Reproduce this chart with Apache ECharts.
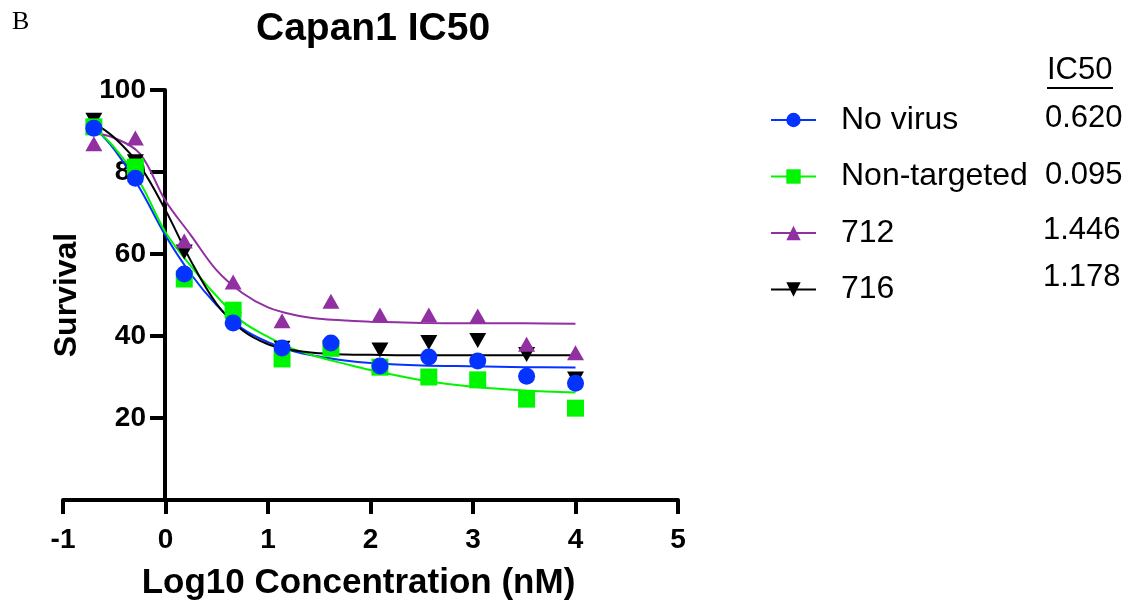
<!DOCTYPE html>
<html>
<head>
<meta charset="utf-8">
<script src="https://cdn.jsdelivr.net/npm/echarts@6/dist/echarts.min.js"></script>
<style>
  html, body { margin: 0; padding: 0; background: #fff; }
  #chart { width: 1132px; height: 607px; }
</style>
</head>
<body>
<div id="chart"></div>
<script>
// Log10 concentration (nM) of each dilution step
const concLog = [-0.699, -0.294, 0.183, 0.660, 1.137, 1.614, 2.092, 2.569, 3.046, 3.523, 4.0];

// Measured survival (%) per condition
const noVirus     = [90.7, 78.5, 55.1, 43.2, 37.1, 38.3, 32.7, 34.9, 33.9, 30.2, 28.5];
const nonTargeted = [91.0, 81.2, 53.9, 46.3, 34.4, 37.0, 32.4, 30.0, 29.3, 24.6, 22.4];
const v712        = [86.9, 88.3, 63.2, 53.2, 43.7, 48.5, 45.1, 45.1, 44.9, 38.0, 35.9];
const v716        = [92.6, 82.5, 60.5, 44.0, 37.0, 37.0, 36.6, 38.4, 38.9, 35.5, 29.5];

// Dose-response fit curves, sampled along the x range
const fitX           = [-0.699, -0.5, -0.25, 0, 0.25, 0.5, 0.75, 1, 1.25, 1.5, 1.75, 2, 2.5, 3, 3.5, 4];
const noVirusFit     = [91.0, 85.5, 76.0, 64.5, 55.0, 47.5, 41.8, 38.5, 36.3, 35.0, 34.0, 33.4, 32.8, 32.6, 32.4, 32.3];
const nonTargetedFit = [91.0, 86.0, 77.5, 65.3, 57.0, 49.7, 43.5, 39.8, 36.8, 34.8, 33.2, 31.7, 29.2, 27.6, 26.7, 26.2];
const v712Fit        = [89.5, 88.3, 84.5, 73.0, 64.5, 56.0, 50.5, 47.0, 45.2, 44.2, 43.8, 43.5, 43.2, 43.1, 43.1, 43.0];
const v716Fit        = [92.0, 88.4, 81.5, 70.7, 58.2, 47.8, 41.4, 38.0, 36.5, 35.8, 35.5, 35.4, 35.3, 35.3, 35.3, 35.3];

// Legend names and IC50 values shown beside them
const seriesNames = ['No virus', 'Non-targeted', '712', '716'];
const ic50Labels  = ['0.620', '0.095', '1.446', '1.178'];

const SANS = '"Liberation Sans", Arial, Helvetica, sans-serif';

const groups = [
  { name: seriesNames[0], values: noVirus,     fit: noVirusFit,     color: '#0433FF', symbol: 'circle',   size: 17,       rotate: 0,   z: 6 },
  { name: seriesNames[1], values: nonTargeted, fit: nonTargetedFit, color: '#00F500', symbol: 'rect',     size: 17,       rotate: 0,   z: 5 },
  { name: seriesNames[2], values: v712,        fit: v712Fit,        color: '#9130A0', symbol: 'triangle', size: [17, 15], rotate: 0,   z: 4 },
  { name: seriesNames[3], values: v716,        fit: v716Fit,        color: '#000000', symbol: 'triangle', size: [17, 15], rotate: 180, z: 3 }
];

const zip = (xs, ys) => xs.map((x, i) => [x, ys[i]]);

const series = [];
// fitted curves (first, so the legend takes its icon from them)
groups.forEach(g => {
  series.push({
    type: 'line',
    name: g.name,
    data: zip(fitX, g.fit),
    smooth: 0.35,
    showSymbol: false,
    symbol: g.symbol,
    symbolRotate: g.rotate,
    lineStyle: { color: g.color, width: 2 },
    itemStyle: { color: g.color },
    z: 2,
    silent: true
  });
});
// measured points
groups.forEach(g => {
  series.push({
    type: 'scatter',
    name: g.name,
    data: zip(concLog, g.values),
    symbol: g.symbol,
    symbolSize: g.size,
    symbolRotate: g.rotate,
    itemStyle: { color: g.color, opacity: 1 },
    z: g.z
  });
});

const rowY = [118, 175, 230, 277];
const ic50X = [1045, 1045, 1043, 1043];
const graphics = [
  { type: 'text', left: 12, top: 9,
    style: { text: 'B', font: '26px "Liberation Serif", "Times New Roman", serif', fill: '#000' } },
  { type: 'text', left: 1047, top: 55,
    style: { text: 'IC50', font: '31px ' + SANS, fill: '#000' } },
  { type: 'line', shape: { x1: 1047, y1: 88, x2: 1113, y2: 88 },
    style: { stroke: '#000', lineWidth: 2 } }
];
ic50Labels.forEach((t, i) => {
  graphics.push({
    type: 'text', x: ic50X[i], y: rowY[i],
    style: { text: t, font: '31px ' + SANS, fill: '#000', verticalAlign: 'middle' }
  });
});

const chart = echarts.init(document.getElementById('chart'), null, { renderer: 'canvas' });
chart.setOption({
  animation: false,
  backgroundColor: '#fff',
  title: {
    text: 'Capan1 IC50',
    left: 251, top: 5,
    textStyle: { fontFamily: SANS, fontSize: 39, fontWeight: 'bold', color: '#000' }
  },
  grid: { left: 63, right: 454, top: 90, bottom: 107, containLabel: false, outerBoundsMode: 'none' },
  xAxis: {
    type: 'value', min: -1, max: 5, interval: 1,
    name: 'Log10 Concentration (nM)', nameLocation: 'middle', nameGap: 66,
    nameTextStyle: { fontFamily: SANS, fontSize: 35, fontWeight: 'bold', color: '#000', padding: [0, 24, 0, 0] },
    axisLine: { lineStyle: { color: '#000', width: 4 } },
    axisTick: { length: 14, lineStyle: { color: '#000', width: 4 } },
    axisLabel: { margin: 26, fontFamily: SANS, fontSize: 28, fontWeight: 'bold', color: '#000' },
    splitLine: { show: false }
  },
  yAxis: {
    type: 'value', min: 0, max: 100, interval: 20,
    // the y axis crosses the x axis at x = 0 (102 px right of the grid's left edge)
    offset: -102,
    name: 'Survival', nameLocation: 'middle', nameGap: 82,
    nameTextStyle: { fontFamily: SANS, fontSize: 32, fontWeight: 'bold', color: '#000' },
    axisLine: { onZero: false, lineStyle: { color: '#000', width: 4 } },
    axisTick: { length: 15, lineStyle: { color: '#000', width: 4 } },
    axisLabel: { margin: 19, showMinLabel: false, fontFamily: SANS, fontSize: 28, fontWeight: 'bold', color: '#000' },
    splitLine: { show: false }
  },
  legend: {
    data: seriesNames,
    orient: 'vertical', left: 765, top: 97,
    itemWidth: 45, itemHeight: 18, itemGap: 20.5,
    selectedMode: false,
    textStyle: { fontFamily: SANS, fontSize: 32, color: '#000', lineHeight: 36, padding: [0, 0, 0, 20] }
  },
  graphic: graphics,
  series: series
});
</script>
</body>
</html>
